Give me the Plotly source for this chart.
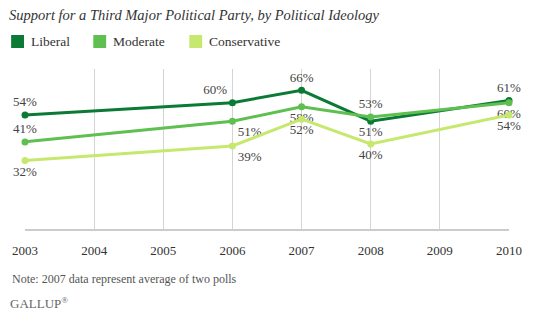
import plotly.graph_objects as go

years = [2003, 2006, 2007, 2008, 2010]
liberal = [54, 60, 66, 51, 61]
moderate = [41, 51, 58, 53, 60]
conservative = [32, 39, 52, 40, 54]
tick_years = [2003, 2004, 2005, 2006, 2007, 2008, 2009, 2010]
series_names = ["Liberal", "Moderate", "Conservative"]
series_colors = ["#0b7a35", "#5fbf50", "#c6e86e"]

label_pos = [
    ["top center", "top left", "top center", "bottom center", "top center"],
    ["top center", "bottom right", "bottom center", "top center", "bottom center"],
    ["bottom center", "bottom right", "bottom center", "bottom center", "bottom center"],
]

W, H = 534, 324
L, R, T, B = 23, 22, 69, 95
PW, PH = W - L - R, H - T - B


def px_x(px):
    return (px - L) / PW


def px_y(py):
    return (H - B - py) / PH


FONT = "Liberation Serif"
fig = go.Figure()
for name, vals, color, pos in zip(series_names, [liberal, moderate, conservative], series_colors, label_pos):
    fig.add_trace(go.Scatter(
        x=years, y=vals, mode="lines+markers+text", name=name,
        line=dict(color=color, width=3), marker=dict(color=color, size=7),
        text=[f"{v}%" for v in vals], textposition=pos,
        textfont=dict(family=FONT, size=13, color="#444444"),
        showlegend=False, cliponaxis=False,
    ))

# legend (manual, to match square swatches and spacing)
legend_sq = [9, 92, 189]
for name, color, sx in zip(series_names, series_colors, legend_sq):
    fig.add_shape(type="rect", xref="paper", yref="paper",
                  x0=px_x(sx), x1=px_x(sx + 13), y0=px_y(48), y1=px_y(35),
                  fillcolor=color, line=dict(width=0))
    fig.add_annotation(text=name, xref="paper", yref="paper", x=px_x(sx + 18), y=px_y(41.5),
                       xanchor="left", yanchor="middle", showarrow=False,
                       font=dict(family=FONT, size=13.5, color="#333333"))

fig.update_layout(
    width=W, height=H,
    paper_bgcolor="white", plot_bgcolor="white",
    margin=dict(l=L, r=R, t=T, b=B),
    title=dict(text="<i>Support for a Third Major Political Party, by Political Ideology</i>",
               x=9 / W, xanchor="left", y=1 - 14.5 / H, yanchor="middle",
               font=dict(family=FONT, size=14.5, color="#333333")),
    showlegend=False,
    xaxis=dict(range=[2003, 2010], tickvals=tick_years, ticktext=[str(t) for t in tick_years],
               showgrid=True, gridcolor="#d4d4d4", gridwidth=1, zeroline=False,
               showline=True, linecolor="#cccccc", linewidth=2,
               ticks="outside", ticklen=8, tickcolor="rgba(0,0,0,0)",
               tickfont=dict(family=FONT, size=13, color="#333333")),
    yaxis=dict(range=[-1.2, 76.3], showgrid=False, zeroline=False, showticklabels=False, showline=False),
)
fig.add_annotation(text="Note: 2007 data represent average of two polls", xref="paper", yref="paper",
                   x=px_x(8), y=px_y(279), xanchor="left", yanchor="middle", showarrow=False,
                   font=dict(family=FONT, size=12, color="#555555"))
fig.add_annotation(text="GALLUP<sup>\u00ae</sup>", xref="paper", yref="paper",
                   x=px_x(6), y=px_y(303), xanchor="left", yanchor="middle", showarrow=False,
                   font=dict(family=FONT, size=13, color="#666666"))
fig.write_html("out.html")
